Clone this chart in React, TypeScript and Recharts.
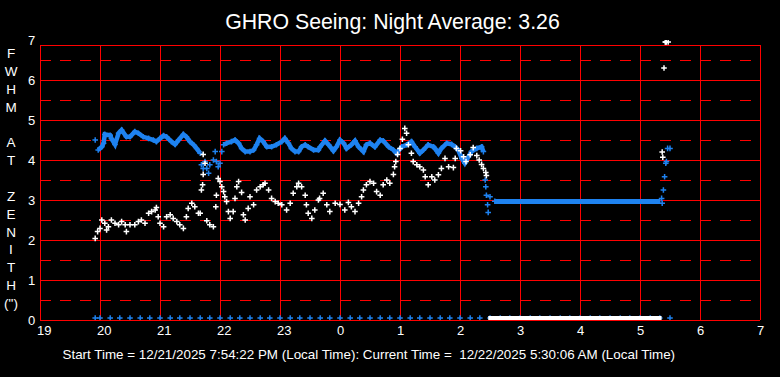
import React from 'react';
import { ComposedChart, XAxis, YAxis, Scatter, Line, ReferenceLine } from 'recharts';

// ---- tick labels & text ----
const hourTicks = [19, 20, 21, 22, 23, 24, 25, 26, 27, 28, 29, 30, 31];
const valueTicks = [0, 1, 2, 3, 4, 5, 6, 7];
const solidLevels = [1, 2, 3, 4, 5, 6];
const dashedLevels = [0.5, 1.5, 2.5, 3.5, 4.5, 5.5, 6.5];
const innerHours = [20, 21, 22, 23, 24, 25, 26, 27, 28, 29, 30];
const titleText = 'GHRO Seeing: Night Average: 3.26';
const footerText = 'Start Time = 12/21/2025 7:54:22 PM (Local Time): Current Time =  12/22/2025 5:30:06 AM (Local Time)';
const yLabelLetters = ['F', 'W', 'H', 'M', '', 'A', 'T', '', 'Z', 'E', 'N', 'I', 'T', 'H', '(")'];

// ---- data: [hour since midnight of 12/21, FWHM arcsec] ----
const blueBandEvening: [number, number][] = [
  [19.97, 4.25], [20.03, 4.33], [20.06, 4.42], [20.08, 4.64], [20.17, 4.62], [20.19, 4.54], [20.25, 4.39],
  [20.31, 4.67], [20.36, 4.75], [20.44, 4.58], [20.5, 4.58], [20.58, 4.71], [20.64, 4.67], [20.72, 4.58],
  [20.81, 4.54], [20.89, 4.5], [20.94, 4.46], [21.0, 4.54], [21.06, 4.61], [21.11, 4.58], [21.19, 4.46],
  [21.25, 4.39], [21.31, 4.5], [21.39, 4.64], [21.44, 4.58], [21.5, 4.46], [21.56, 4.38], [21.61, 4.29],
  [21.67, 4.17],
];
const blueScattered: [number, number][] = [
  [19.92, 4.5], [21.69, 3.88], [21.72, 3.79], [21.75, 3.96], [21.78, 3.79], [21.81, 3.67], [21.83, 3.88],
  [21.89, 4.0], [21.92, 4.21], [21.94, 3.96], [21.97, 3.83], [22.0, 3.92], [22.03, 4.21],
  [26.42, 3.5], [26.43, 3.33], [26.44, 3.12], [26.5, 3.08], [26.46, 2.88], [26.47, 2.69], [26.58, 2.97],
  [29.36, 3.04], [29.37, 2.92], [29.39, 3.25], [29.41, 3.58], [29.43, 3.92], [29.44, 3.96], [29.46, 4.29],
  [29.5, 4.29],
];
const blueBandNight: [number, number][] = [
  [22.06, 4.38], [22.11, 4.42], [22.19, 4.46], [22.25, 4.5], [22.31, 4.42], [22.36, 4.29], [22.42, 4.21],
  [22.5, 4.21], [22.56, 4.25], [22.61, 4.38], [22.66, 4.54], [22.72, 4.46], [22.78, 4.33], [22.86, 4.33],
  [22.94, 4.38], [23.03, 4.46], [23.08, 4.54], [23.14, 4.42], [23.19, 4.29], [23.25, 4.21], [23.31, 4.21],
  [23.36, 4.33], [23.42, 4.38], [23.47, 4.33], [23.56, 4.25], [23.64, 4.25], [23.67, 4.33], [23.75, 4.48],
  [23.81, 4.38], [23.89, 4.23], [23.94, 4.33], [24.0, 4.5], [24.06, 4.42], [24.11, 4.29], [24.19, 4.38],
  [24.25, 4.48], [24.31, 4.33], [24.39, 4.21], [24.44, 4.38], [24.5, 4.42], [24.58, 4.33], [24.67, 4.5],
  [24.72, 4.48], [24.81, 4.33], [24.89, 4.25], [24.94, 4.17], [25.03, 4.33], [25.11, 4.38], [25.19, 4.46],
  [25.25, 4.33], [25.33, 4.17], [25.39, 4.25], [25.47, 4.38], [25.56, 4.33], [25.58, 4.29], [25.64, 4.17],
  [25.69, 4.29], [25.78, 4.42], [25.86, 4.39], [25.92, 4.33], [25.97, 4.25], [26.03, 4.04], [26.08, 3.92],
  [26.14, 4.08], [26.19, 4.21], [26.28, 4.29], [26.36, 4.33], [26.39, 4.21],
];
const blueFlatRun: [number, number][] = [[26.58, 2.96], [29.34, 2.96]];
const blueBaseline: number[] = [
  19.92, 20.0, 20.17, 20.33, 20.5, 20.67, 20.83, 21.0, 21.17, 21.33, 21.5, 21.67, 21.83,
  22.0, 22.17, 22.33, 22.5, 22.67, 22.83, 23.0, 23.17, 23.33, 23.5, 23.67, 23.83,
  24.0, 24.17, 24.33, 24.5, 24.67, 24.83, 25.0, 25.17, 25.33, 25.5, 25.67, 25.83,
  26.0, 26.17, 26.33, 26.5, 26.67, 26.83, 27.0, 27.17, 27.33, 27.5, 27.67, 27.83,
  28.0, 28.17, 28.33, 28.5, 28.67, 28.83, 29.0, 29.17, 29.33, 29.5,
];
const whiteSeeing: [number, number][] = [
  [19.92, 2.04], [19.96, 2.21], [20.0, 2.29], [20.03, 2.5], [20.08, 2.42], [20.11, 2.25], [20.14, 2.33],
  [20.19, 2.5], [20.25, 2.42], [20.31, 2.38], [20.36, 2.46], [20.42, 2.38], [20.44, 2.21], [20.5, 2.38],
  [20.58, 2.38], [20.64, 2.46], [20.69, 2.5], [20.75, 2.42], [20.81, 2.67], [20.86, 2.71], [20.92, 2.75],
  [20.94, 2.81], [20.97, 2.58], [21.0, 2.42], [21.06, 2.33], [21.11, 2.58], [21.17, 2.63], [21.22, 2.54],
  [21.28, 2.46], [21.33, 2.38], [21.39, 2.29], [21.44, 2.58], [21.47, 2.79], [21.53, 2.92], [21.58, 2.83],
  [21.64, 2.67], [21.69, 3.25], [21.71, 3.38], [21.72, 4.14], [21.75, 3.92], [21.72, 3.64], [21.67, 2.67],
  [21.78, 2.48], [21.83, 2.38], [21.89, 2.33], [21.94, 3.12], [21.93, 2.83], [21.97, 3.54], [22.0, 3.46],
  [22.03, 3.33], [22.06, 3.21], [22.08, 3.08], [22.11, 2.96], [22.14, 2.71], [22.17, 2.54], [22.22, 2.71],
  [22.25, 3.04], [22.28, 3.33], [22.31, 3.46], [22.36, 3.19], [22.39, 2.63], [22.42, 2.5], [22.47, 2.79],
  [22.5, 3.08], [22.56, 2.88], [22.61, 3.25], [22.67, 3.33], [22.72, 3.38], [22.75, 3.42], [22.81, 3.25],
  [22.86, 3.04], [22.92, 2.96], [22.97, 2.92], [23.03, 2.88], [23.11, 2.75], [23.17, 2.92], [23.22, 3.17],
  [23.28, 3.33], [23.31, 3.42], [23.36, 3.33], [23.42, 3.12], [23.44, 2.88], [23.47, 2.67], [23.53, 2.54],
  [23.58, 2.75], [23.64, 3.0], [23.66, 3.04], [23.72, 3.17], [23.78, 2.88], [23.83, 2.71], [23.92, 2.92],
  [24.0, 2.89], [24.08, 2.75], [24.14, 2.94], [24.19, 2.83], [24.25, 2.71], [24.31, 2.92], [24.36, 3.08],
  [24.39, 3.25], [24.44, 3.38], [24.5, 3.46], [24.56, 3.42], [24.61, 3.21], [24.67, 3.12], [24.72, 3.38],
  [24.78, 3.5], [24.83, 3.42], [24.89, 3.64], [24.91, 3.83], [24.93, 3.96], [24.96, 4.14], [25.0, 4.29],
  [25.04, 4.52], [25.08, 4.79], [25.11, 4.67], [25.14, 4.38], [25.19, 4.17], [25.22, 3.96], [25.28, 3.88],
  [25.33, 3.83], [25.39, 3.75], [25.42, 3.58], [25.47, 3.38], [25.53, 3.58], [25.58, 3.5], [25.64, 3.63],
  [25.69, 3.79], [25.75, 4.04], [25.81, 3.83], [25.89, 3.81], [25.92, 4.04], [25.94, 4.29], [26.01, 4.23],
  [26.06, 4.08], [26.1, 3.96], [26.17, 4.13], [26.22, 4.31], [26.28, 4.11], [26.32, 4.0], [26.36, 3.89],
  [26.39, 3.79], [26.43, 3.69], [26.44, 3.61],
  [29.37, 4.2], [29.38, 4.07], [29.4, 6.3], [29.42, 6.95], [29.43, 6.95], [29.44, 6.95], [29.47, 6.95],
];
const whiteBaseRun: [number, number][] = [[26.47, 0.05], [29.36, 0.05]];

const toPts = (a: [number, number][]) => a.map(([h, v]) => ({ h, v }));
const BLUE = '#1e82f0';
const RED = '#ff0000';
const FONT = 'Arial, "Liberation Sans", sans-serif';

const makeCross = (color: string) => (p: any) => {
  const x = p.cx, y = p.cy;
  if (x == null || y == null) return <g />;
  return (
    <path d={`M${x - 2.8},${y}H${x + 2.8}M${x},${y - 2.8}V${y + 2.8}`} stroke={color} strokeWidth={1.5} fill="none" />
  );
};
const noMark = () => <g />;

const XTick = (p: any) => (
  <text x={p.x - 3} y={335} fill="#fff" fontSize={13} fontFamily={FONT} textAnchor="start">
    {String(p.payload.value % 24)}
  </text>
);
const YTick = (p: any) => (
  <text x={31.5} y={p.y + 5} fill="#fff" fontSize={13} fontFamily={FONT} textAnchor="middle">
    {String(p.payload.value)}
  </text>
);

export default function App() {
  return (
    <div style={{ position: 'absolute', left: 0, top: 0, width: 780, height: 377, background: '#000', overflow: 'hidden' }}>
      <ComposedChart width={780} height={377} margin={{ top: 40, right: 20, bottom: 0, left: 0 }}>
        <XAxis type="number" dataKey="h" domain={[19, 31]} ticks={hourTicks} allowDataOverflow
          axisLine={false} tickLine={false} height={57} tick={<XTick />} interval={0} />
        <YAxis type="number" dataKey="v" domain={[0, 7]} ticks={valueTicks} allowDataOverflow
          axisLine={false} tickLine={false} width={40} tick={<YTick />} interval={0} />
        {dashedLevels.map((v) => (
          <ReferenceLine key={'d' + v} y={v} stroke={RED} strokeWidth={1} strokeDasharray="11 9" shapeRendering="crispEdges" />
        ))}
        {solidLevels.map((v) => (
          <ReferenceLine key={'s' + v} y={v} stroke={RED} strokeWidth={1} shapeRendering="crispEdges" />
        ))}
        <ReferenceLine y={6.875} stroke={RED} strokeWidth={1} shapeRendering="crispEdges" />
        <ReferenceLine y={0} stroke={RED} strokeWidth={1} shapeRendering="crispEdges" />
        {[19, ...innerHours, 31].map((h) => (
          <ReferenceLine key={'v' + h} segment={[{ x: h, y: 0 }, { x: h, y: 6.875 }]} stroke={RED} strokeWidth={1} shapeRendering="crispEdges" />
        ))}
        <Line data={toPts(blueBandEvening)} dataKey="v" stroke={BLUE} strokeWidth={4.5} dot={false} isAnimationActive={false} type="linear" />
        <Line data={toPts(blueBandNight)} dataKey="v" stroke={BLUE} strokeWidth={4.5} dot={false} isAnimationActive={false} type="linear" />
        <Scatter data={toPts(blueFlatRun)} dataKey="v" shape={noMark} line={{ stroke: BLUE, strokeWidth: 5 }} isAnimationActive={false} />
        <Scatter data={toPts(blueBandEvening)} dataKey="v" shape={makeCross(BLUE)} isAnimationActive={false} />
        <Scatter data={toPts(blueBandNight)} dataKey="v" shape={makeCross(BLUE)} isAnimationActive={false} />
        <Scatter data={toPts(blueScattered)} dataKey="v" shape={makeCross(BLUE)} isAnimationActive={false} />
        <Scatter data={blueBaseline.map((h) => ({ h, v: 0.05 }))} dataKey="v" shape={makeCross(BLUE)} isAnimationActive={false} />
        <Scatter data={toPts(whiteBaseRun)} dataKey="v" shape={noMark} line={{ stroke: '#fff', strokeWidth: 4 }} isAnimationActive={false} />
        <Scatter data={toPts(whiteSeeing)} dataKey="v" shape={makeCross('#fff')} isAnimationActive={false} />
      </ComposedChart>
      <svg width={780} height={377} style={{ position: 'absolute', left: 0, top: 0, pointerEvents: 'none' }}>
        <text x={392.5} y={29} fill="#fff" fontSize={21.3} fontFamily={FONT} textAnchor="middle">{titleText}</text>
        {yLabelLetters.map((c, i) => (
          <text key={i} x={11} y={58 + i * 17.86} fill="#fff" fontSize={13.5} fontFamily={FONT} textAnchor="middle">{c}</text>
        ))}
        <text x={62.5} y={359} fill="#fff" fontSize={13.4} fontFamily={FONT} textAnchor="start" style={{ whiteSpace: 'pre' }}>{footerText}</text>
      </svg>
    </div>
  );
}
